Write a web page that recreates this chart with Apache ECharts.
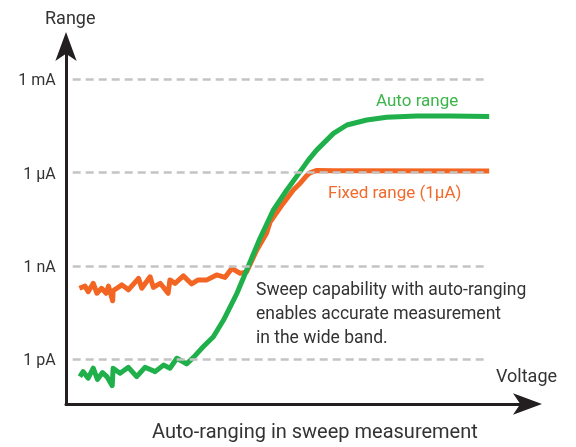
<!DOCTYPE html>
<html>
<head>
<meta charset="utf-8">
<script src="https://cdn.jsdelivr.net/npm/echarts@6/dist/echarts.min.js"></script>
<style>
html,body{margin:0;padding:0;background:#fff;}
#chart{width:576px;height:447px;}
</style>
</head>
<body>
<div id="chart"></div>
<script>
// Range levels (log10 of current in A) and their tick labels
const rangeValues = [-3, -6, -9, -12];
const rangeLabels = ['1 mA', '1 µA', '1 nA', '1 pA'];

// Fixed range (1µA): [voltage (relative units), log10(I)]
const fixedX = [2.9, 4.1, 4.8, 5.9, 6.7, 7.7, 8.7, 9.2, 10.1, 10.2, 12.1, 13.5, 15.7, 16.4, 18.2, 18.9, 20.4, 22.1, 22.5, 23.6, 25.4, 27.2, 28.6, 30.5, 32.6, 34.4, 35.9, 37.7, 39.1, 41.3, 43.4, 44.2, 47.0, 49.2, 50.7, 52.1, 52.8, 54.3, 57.9, 91.6];
const fixedY = [-9.72, -9.65, -9.83, -9.56, -9.88, -9.72, -9.88, -9.65, -10.12, -9.80, -9.61, -9.77, -9.40, -9.72, -9.35, -9.69, -9.56, -9.88, -9.45, -9.56, -9.32, -9.58, -9.45, -9.45, -9.29, -9.37, -9.08, -9.24, -9.19, -8.49, -7.95, -7.58, -6.99, -6.56, -6.34, -6.10, -6.01, -5.93, -5.94, -5.95];

// Auto range
const autoX = [3.0, 3.7, 4.8, 5.9, 6.8, 7.9, 8.9, 10.0, 10.2, 11.7, 13.5, 15.3, 17.1, 19.3, 21.1, 22.5, 24.0, 26.1, 27.6, 29.7, 31.9, 34.1, 37.0, 39.8, 42.0, 44.9, 47.8, 49.9, 52.5, 54.3, 57.9, 60.8, 65.1, 69.4, 75.9, 83.1, 91.6];
const autoY = [-12.56, -12.40, -12.61, -12.29, -12.65, -12.43, -12.57, -12.85, -12.29, -12.45, -12.26, -12.56, -12.26, -12.40, -12.19, -12.29, -11.97, -12.15, -11.94, -11.60, -11.28, -10.74, -9.88, -8.89, -8.11, -7.20, -6.56, -6.13, -5.59, -5.27, -4.74, -4.47, -4.31, -4.22, -4.18, -4.18, -4.20];

// Extent of the dashed range lines along the voltage axis
const gridLineFrom = 1.45;
const gridLineTo = 91.5;

const GREEN = '#1fb04b';
const ORANGE = '#f26522';
const TEXT = '#333333';
const FONT = 'Roboto, "Liberation Sans", sans-serif';

const chart = echarts.init(document.getElementById('chart'), null, {renderer: 'canvas'});

const zip = (xs, ys) => xs.map((x, i) => [x, ys[i]]);

const axisLineStyle = {
  show: true, symbol: ['none', 'arrow'], symbolSize: [16, 29], symbolOffset: [0, 14],
  lineStyle: {color: '#231f20', width: 3}
};

const option = {
  animation: false,
  backgroundColor: '#ffffff',
  textStyle: {fontFamily: FONT},
  grid: {left: 66, right: 48, top: 46, bottom: 43, outerBoundsMode: 'none', containLabel: false},
  title: [
    {text: 'Range', left: 45, top: 10, padding: 0, textStyle: {fontSize: 18, fontWeight: 'normal', color: TEXT, fontFamily: FONT}},
    {text: 'Voltage', left: 496, top: 368, padding: 0, textStyle: {fontSize: 18, fontWeight: 'normal', color: TEXT, fontFamily: FONT}},
    {text: 'Auto range', left: 376, top: 93, padding: 0, textStyle: {fontSize: 17, fontWeight: 'normal', color: '#3ab54a', fontFamily: FONT}},
    {text: 'Fixed range (1µA)', left: 328, top: 185, padding: 0, textStyle: {fontSize: 17, fontWeight: 'normal', color: '#f26a2c', fontFamily: FONT}},
    {text: 'Sweep capability with auto-ranging\nenables accurate measurement\nin the wide band.', left: 256, top: 279, padding: 0,
     textStyle: {fontSize: 17.5, lineHeight: 24, fontWeight: 'normal', color: TEXT, fontFamily: FONT}},
    {text: 'Auto-ranging in sweep measurement', left: 152, top: 423, padding: 0, textStyle: {fontSize: 20, fontWeight: 'normal', color: TEXT, fontFamily: FONT}}
  ],
  xAxis: {
    type: 'value', min: 0, max: 100,
    axisLine: axisLineStyle,
    axisTick: {show: false}, axisLabel: {show: false}, splitLine: {show: false}
  },
  yAxis: {
    type: 'value', min: -13.44, max: -1.93,
    axisLine: axisLineStyle,
    axisTick: {show: false}, axisLabel: {show: false}, splitLine: {show: false}
  },
  series: [
    {
      type: 'line', data: [], z: 1, silent: true,
      markLine: {
        silent: true, symbol: ['none', 'none'],
        lineStyle: {color: '#c4c4c4', width: 2.5, type: [8, 5]},
        label: {show: true, position: 'start', distance: 17, offset: [0, 2], color: TEXT, fontSize: 16, fontFamily: FONT,
                formatter: p => p.data.labelText},
        data: rangeValues.map((v, i) => [
          {coord: [gridLineFrom, v], labelText: rangeLabels[i]},
          {coord: [gridLineTo, v]}
        ])
      }
    },
    {
      name: 'Fixed range (1µA)', type: 'line', z: 2, data: zip(fixedX, fixedY),
      showSymbol: false, lineStyle: {color: ORANGE, width: 5, join: 'round'}, itemStyle: {color: ORANGE}
    },
    {
      name: 'Auto range', type: 'line', z: 3, data: zip(autoX, autoY),
      showSymbol: false, lineStyle: {color: GREEN, width: 5, join: 'round'}, itemStyle: {color: GREEN}
    }
  ]
};
chart.setOption(option);
</script>
</body>
</html>
